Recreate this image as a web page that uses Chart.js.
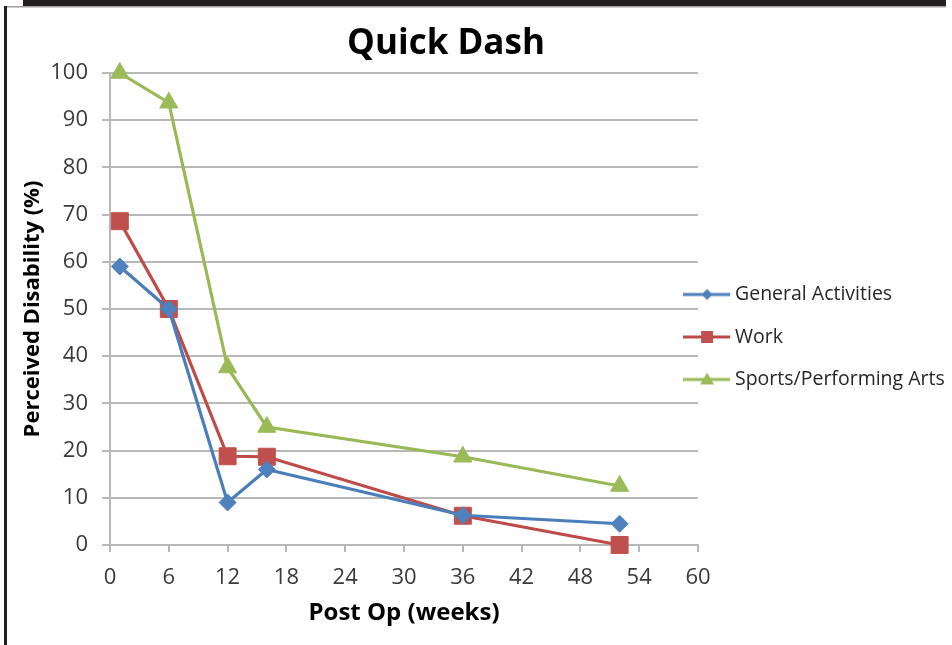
<!DOCTYPE html>
<html>
<head>
<meta charset="utf-8">
<script src="https://cdn.jsdelivr.net/npm/chart.js@4/dist/chart.umd.min.js"></script>
<style>
  html, body { margin: 0; padding: 0; background: #ffffff; }
  #wrap { position: relative; width: 952px; height: 645px; overflow: hidden; background: #fff; }
  #c { position: absolute; left: 0; top: 0; }
  .band { position: absolute; left: 23px; top: 0; width: 923px; height: 6px; background: #231f20; }
  .band2 { position: absolute; left: 7px; top: 6px; width: 939px; height: 2px; background: linear-gradient(#8a8a8a, #e6e6e6); }
  .lline { position: absolute; left: 4px; top: 6px; width: 3px; height: 639px; background: #231f20; }
</style>
</head>
<body>
<div id="wrap">
  <canvas id="c" width="952" height="645"></canvas>
  <div class="band"></div>
  <div class="band2"></div>
  <div class="lline"></div>
</div>
<script>
// ---- data ----
const chartTitle = 'Quick Dash';
const xTitle = 'Post Op (weeks)';
const yTitle = 'Perceived Disability (%)';
const weeks = [1, 6, 12, 16, 36, 52];
const seriesNames = ['General Activities', 'Work', 'Sports/Performing Arts'];
const generalActivities = [59, 50, 9, 16, 6.3, 4.5];
const work = [68.6, 50, 18.8, 18.7, 6.2, 0];
const sportsPerformingArts = [100, 93.7, 37.6, 25, 18.7, 12.5];
const xTicks = [0, 6, 12, 18, 24, 30, 36, 42, 48, 54, 60];
const yTicks = [0, 10, 20, 30, 40, 50, 60, 70, 80, 90, 100];

const lineColors = ['#4a7ebb', '#be4b48', '#98b954'];
const fillColors = ['#4f81bd', '#c0504d', '#9bbb59'];
const pointStyles = ['rectRot', 'rect', 'triangle'];
const pointRadii = [8.5, 12, 10.5];

const FONT = "'Open Sans', 'DejaVu Sans', sans-serif";

function toPoints(ys) { return weeks.map((w, i) => ({ x: w, y: ys[i] })); }

// legend icons (line + marker)
function makeIcon(i) {
  const cv = document.createElement('canvas');
  cv.width = 65; cv.height = 24;
  const g = cv.getContext('2d');
  const cy = 12, cx = 24;
  g.strokeStyle = lineColors[i];
  g.lineWidth = 3;
  g.beginPath(); g.moveTo(0, cy); g.lineTo(47, cy); g.stroke();
  g.fillStyle = fillColors[i];
  g.beginPath();
  if (i === 0) {
    g.moveTo(cx, cy - 5.5); g.lineTo(cx + 5.5, cy); g.lineTo(cx, cy + 5.5); g.lineTo(cx - 5.5, cy); g.closePath();
  } else if (i === 1) {
    g.rect(cx - 6, cy - 6, 12, 12);
  } else {
    g.moveTo(cx, cy - 7); g.lineTo(cx + 7, cy + 5); g.lineTo(cx - 7, cy + 5); g.closePath();
  }
  g.fill();
  return cv;
}
const legendIcons = [0, 1, 2].map(makeIcon);

const seriesData = [generalActivities, work, sportsPerformingArts];
const datasets = seriesData.map((ys, i) => ({
  label: seriesNames[i],
  data: toPoints(ys),
  borderColor: lineColors[i],
  backgroundColor: fillColors[i],
  borderWidth: 3.2,
  pointStyle: pointStyles[i],
  pointRadius: pointRadii[i],
  pointHoverRadius: pointRadii[i],
  pointBackgroundColor: fillColors[i],
  pointBorderColor: fillColors[i],
  pointBorderWidth: 1,
  tension: 0,
  clip: false
}));

// widen the legend box so its line icons can start inside the plot edge (as in the original)
const legendBoxPlugin = {
  id: 'legendBox',
  afterLayout(chart) {
    const lg = chart.legend;
    if (!lg) return;
    lg.left = chart.chartArea.right - 15;
    lg.right = chart.width;
    lg.width = lg.right - lg.left;
  }
};

new Chart(document.getElementById('c'), {
  type: 'line',
  data: { datasets },
  plugins: [legendBoxPlugin],
  options: {
    responsive: false,
    animation: false,
    devicePixelRatio: 1,
    layout: { padding: { left: 10, right: 70, top: 8, bottom: 0 } },
    plugins: {
      tooltip: { enabled: false },
      title: {
        display: true,
        text: chartTitle,
        color: '#000000',
        font: { family: FONT, size: 35, weight: 'bold', lineHeight: 1.2 },
        padding: { top: 15, bottom: 8 }
      },
      legend: {
        position: 'right',
        align: 'center',
        maxWidth: 184,
        title: { display: true, text: ' ', font: { size: 1, lineHeight: 1 }, padding: { top: 20, bottom: 0 } },
        labels: {
          usePointStyle: true,
          pointStyleWidth: 19.25,
          padding: 23,
          color: '#262626',
          font: { family: FONT, size: 19.5 },
          generateLabels: (chart) => {
            const items = Chart.defaults.plugins.legend.labels.generateLabels(chart);
            items.forEach((it, i) => { it.pointStyle = legendIcons[i]; });
            return items;
          }
        }
      }
    },
    scales: {
      x: {
        type: 'linear',
        min: xTicks[0],
        max: xTicks[xTicks.length - 1],
        afterBuildTicks: (s) => { s.ticks = xTicks.map(v => ({ value: v })); },
        afterFit: (s) => { s.height = 100; },
        ticks: { color: '#3a3a3a', font: { family: FONT, size: 22 }, padding: 13, maxRotation: 0, autoSkip: false },
        grid: { drawOnChartArea: false, drawTicks: true, tickLength: 7, color: '#b8b8b8', lineWidth: 2 },
        border: { display: true, color: '#b8b8b8', width: 2 },
        title: { display: true, text: xTitle, color: '#000000', font: { family: FONT, size: 24, weight: 'bold', lineHeight: 1.2 }, padding: { top: 0, bottom: 17.6 } }
      },
      y: {
        min: yTicks[0],
        max: yTicks[yTicks.length - 1],
        afterBuildTicks: (s) => { s.ticks = yTicks.map(v => ({ value: v })); },
        afterFit: (s) => { s.width = 100; },
        ticks: { color: '#3a3a3a', font: { family: FONT, size: 22 }, padding: 14 },
        grid: { drawTicks: true, tickLength: 8, color: '#b8b8b8', lineWidth: 2 },
        border: { display: true, color: '#b8b8b8', width: 2 },
        title: { display: true, text: yTitle, color: '#000000', font: { family: FONT, size: 22, weight: 'bold', lineHeight: 1.2 }, padding: { top: 9.8, bottom: 0 } }
      }
    }
  }
});
</script>
</body>
</html>
